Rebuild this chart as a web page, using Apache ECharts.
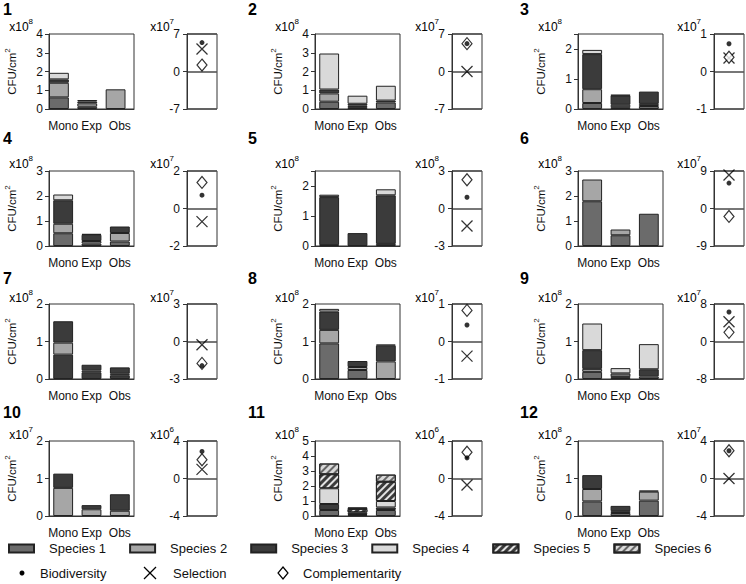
<!DOCTYPE html>
<html><head><meta charset="utf-8">
<script src="https://cdn.jsdelivr.net/npm/echarts@6/dist/echarts.min.js"></script>
<style>html,body{margin:0;padding:0;background:#fff}#c{width:746px;height:584px}</style>
</head><body><div id="c"></div>
<script>
// ---------------- DATA ----------------
const categories = ['Mono', 'Exp', 'Obs'];
const panelNames = ['1','2','3','4','5','6','7','8','9','10','11','12'];
const barAxisMax = [4, 4, 2.5, 3, 2.5, 3, 2, 2, 2, 2, 5, 2];
const barExponent = [8, 8, 8, 8, 8, 8, 8, 8, 8, 7, 8, 8];
const effectAxisMax = [7, 7, 1, 2, 3, 9, 3, 1, 8, 4, 4, 4];
const effectExponent = [7, 7, 7, 7, 8, 7, 7, 7, 7, 6, 6, 7];
const speciesNames = ['Species 1','Species 2','Species 3','Species 4','Species 5','Species 6'];
const effectNames = ['Biodiversity','Selection','Complementarity'];
// stacked segments [species number, value] from bottom to top, for Mono / Exp / Obs
const stack1  = [[[1,.62],[2,.78],[3,.18],[4,.35]], [[1,.12],[2,.18],[3,.10],[4,.08]], [[2,1.05]]];
const stack2  = [[[1,.39],[2,.44],[3,.21],[4,1.92]], [[1,.10],[2,.08],[3,.10],[4,.43]], [[1,.35],[3,.10],[4,.79]]];
const stack3  = [[[1,.20],[2,.46],[3,1.17],[4,.14]], [[1,.06],[2,.08],[3,.31],[4,.02]], [[1,.10],[2,.07],[3,.41]]];
const stack4  = [[[1,.51],[2,.38],[3,.94],[4,.23]], [[1,.10],[2,.10],[3,.25],[4,.03]], [[1,.18],[2,.34],[3,.26]]];
const stack5  = [[[1,.03],[3,1.60],[2,.08]], [[3,.43]], [[1,.07],[3,1.62],[4,.20]]];
const stack6  = [[[1,1.79],[2,.87]], [[1,.43],[2,.23]], [[1,1.29]]];
const stack7  = [[[3,.65],[2,.32],[3,.57]], [[3,.18],[2,.05],[3,.15]], [[3,.10],[2,.04],[3,.17]]];
const stack8  = [[[1,.95],[2,.36],[3,.49],[4,.07]], [[1,.24],[2,.08],[3,.16]], [[2,.47],[3,.42],[4,.03]]];
const stack9  = [[[1,.19],[2,.08],[3,.50],[4,.71]], [[3,.05],[1,.10],[4,.14]], [[1,.07],[3,.19],[4,.67]]];
const stack10 = [[[2,.75],[3,.38]], [[2,.18],[3,.11]], [[2,.14],[3,.44]]];
const stack11 = [[[1,.40],[3,.40],[4,1.05],[5,.93],[6,.72]], [[1,.08],[3,.05],[4,.12],[5,.22],[6,.10]], [[1,.40],[3,.17],[4,.43],[5,1.28],[6,.48]]];
const stack12 = [[[1,.39],[2,.33],[3,.37]], [[1,.08],[2,.05],[3,.14]], [[1,.41],[2,.24],[3,.03]]];
const biodiversity    = [5.4, 5.2, 0.74, 0.71, 0.9, 6.1, -1.93, 0.44, 6.3, 2.89, 2.2, 2.96];
const selection       = [4.2, 0, 0.36, -0.7, -1.4, 8.06, -0.26, -0.39, 4.2, 0.97, -0.7, 0];
const complementarity = [1.2, 5.2, 0.38, 1.39, 2.3, -1.9, -1.75, 0.83, 1.95, 2.0, 2.8, 2.96];
const stacks = [stack1,stack2,stack3,stack4,stack5,stack6,stack7,stack8,stack9,stack10,stack11,stack12];

// ---------------- STYLE / LAYOUT ----------------
const FONT = '"Liberation Sans", Arial, sans-serif';
const TXT = '#111';
const AX = '#333';
const colBar = [49, 315, 578], colEff = [187, 452, 714], rowTop = [34, 171, 304, 441];
const labelX = [3, 248, 520], labelY = [9, 138, 278, 412];
const expY = [25, 162, 296, 433];
const BW = 85, EW = 30, H = 75;
const speciesColor = ['#6b6b6b', '#a6a6a6', '#3b3b3b', '#d9d9d9', '#3b3b3b', '#d9d9d9'];
const speciesDecal = [null, null, null, null,
  {symbol:'rect', symbolSize:1, color:'rgba(255,255,255,0.85)', dashArrayX:[1,0], dashArrayY:[1.5,3], rotation:-Math.PI/4},
  {symbol:'rect', symbolSize:1, color:'rgba(90,90,90,0.9)', dashArrayX:[1,0], dashArrayY:[1.5,3], rotation:-Math.PI/4}];
function segStyle(s) {
  const st = {color: speciesColor[s-1], borderColor:'#222', borderWidth:1};
  if (speciesDecal[s-1]) st.decal = speciesDecal[s-1];
  return st;
}
const supRich = {b:{fontSize:12, fontFamily:FONT, color:TXT, lineHeight:16, verticalAlign:'bottom'},
                 s:{fontSize:8, fontFamily:FONT, color:TXT, lineHeight:9, verticalAlign:'top'}};
const nameRich = {b:{fontSize:11.5, fontFamily:FONT, color:TXT, lineHeight:15, verticalAlign:'bottom'},
                  s:{fontSize:8, fontFamily:FONT, color:TXT, lineHeight:9, verticalAlign:'top'}};

const grid = [], xAxis = [], yAxis = [], series = [], graphic = [];
stacks.forEach((st, p) => {
  const r = Math.floor(p / 3), c = p % 3;
  const top = rowTop[r];
  graphic.push({type:'text', x: labelX[c], y: labelY[r], style:{text: panelNames[p], font:'bold 16px ' + FONT, fill:'#000', textAlign:'left', textVerticalAlign:'middle', align:'left', verticalAlign:'middle'}});
  graphic.push({type:'text', x: colBar[c] - 16, y: expY[r], style:{text:'{b|x10}{s|' + barExponent[p] + '}', rich:supRich, textAlign:'right', textVerticalAlign:'middle', align:'right', verticalAlign:'middle'}});
  graphic.push({type:'text', x: colEff[c] - 13, y: expY[r], style:{text:'{b|x10}{s|' + effectExponent[p] + '}', rich:supRich, textAlign:'right', textVerticalAlign:'middle', align:'right', verticalAlign:'middle'}});

  // bar grid
  const gi = grid.length;
  grid.push({left: colBar[c], top: top, width: BW, height: H, show: true, borderColor: AX, borderWidth: 1, backgroundColor:'transparent'});
  xAxis.push({gridIndex: gi, type:'category', data: categories, axisTick:{show:false},
    axisLine:{show:true, lineStyle:{color:AX, width:1}},
    axisLabel:{interval:0, fontSize:12, fontFamily:FONT, color:TXT, margin:11}});
  yAxis.push({gridIndex: gi, type:'value', min:0, max: barAxisMax[p], interval:1,
    splitLine:{show:false},
    axisLine:{show:true, lineStyle:{color:AX, width:1}},
    axisTick:{show:true, length:4, lineStyle:{color:AX}},
    axisLabel:{fontSize:12, fontFamily:FONT, color:TXT, margin:6, formatter: v => Number.isInteger(v) ? String(v) : ''},
    name:'{b|CFU/cm}{s|2}', nameLocation:'middle', nameRotate:90, nameGap:31,
    nameTextStyle:{rich: nameRich}});
  const nLayers = Math.max(...st.map(s => s.length));
  for (let L = 0; L < nLayers; L++) {
    series.push({type:'bar', xAxisIndex: gi, yAxisIndex: gi, stack:'p' + p, barWidth:'70%',
      silent:true, animation:false,
      data: st.map(segs => segs[L] ? {value: segs[L][1], itemStyle: segStyle(segs[L][0])} : '-')});
  }

  // effect grid
  const ei = grid.length;
  const m = effectAxisMax[p];
  grid.push({left: colEff[c], top: top, width: EW, height: H, show: true, borderColor: AX, borderWidth: 1, backgroundColor:'transparent'});
  xAxis.push({gridIndex: ei, type:'value', min:0, max:2, show:false});
  yAxis.push({gridIndex: ei, type:'value', min:-m, max:m, interval:m,
    splitLine:{show:true, lineStyle:{color:'#555', width:1.6}},
    axisLine:{show:true, lineStyle:{color:AX, width:1}},
    axisTick:{show:true, length:4, lineStyle:{color:AX}},
    axisLabel:{fontSize:12, fontFamily:FONT, color:TXT, margin:7}});
  series.push({type:'scatter', xAxisIndex: ei, yAxisIndex: ei, silent:true, animation:false,
    symbol:'path://M0,0L10,10M10,0L0,10', symbolSize:[11,11],
    itemStyle:{color:'none', borderColor:'#000', borderWidth:1.3},
    data:[[1, selection[p]]]});
  series.push({type:'scatter', xAxisIndex: ei, yAxisIndex: ei, silent:true, animation:false,
    symbol:'diamond', symbolSize:[10,12],
    itemStyle:{color:'#fff', borderColor:'#000', borderWidth:1.2},
    data:[[1, complementarity[p]]]});
  series.push({type:'scatter', xAxisIndex: ei, yAxisIndex: ei, silent:true, animation:false,
    symbol:'circle', symbolSize:5,
    itemStyle:{color:'#000'},
    data:[[1, biodiversity[p]]]});
});

// legend-only series for species swatches
speciesNames.forEach((nm, k) => {
  series.push({type:'bar', name: nm, xAxisIndex:0, yAxisIndex:0, data:[], silent:true, animation:false,
    itemStyle: segStyle(k + 1)});
});

// ---------------- EFFECT LEGEND (graphic) ----------------
const legY2 = 573;
graphic.push({type:'circle', x: 22, y: legY2, shape:{r:2.5}, style:{fill:'#000'}});
graphic.push({type:'text', x: 40, y: legY2, style:{text: effectNames[0], font:'13px ' + FONT, fill: TXT, textVerticalAlign:'middle', verticalAlign:'middle'}});
graphic.push({type:'polyline', x: 150, y: legY2, shape:{points:[[-6,-6],[6,6]]}, style:{stroke:'#000', lineWidth:1.3, fill:null}});
graphic.push({type:'polyline', x: 150, y: legY2, shape:{points:[[6,-6],[-6,6]]}, style:{stroke:'#000', lineWidth:1.3, fill:null}});
graphic.push({type:'text', x: 173, y: legY2, style:{text: effectNames[1], font:'13px ' + FONT, fill: TXT, textVerticalAlign:'middle', verticalAlign:'middle'}});
graphic.push({type:'polygon', x: 283, y: legY2, shape:{points:[[0,-6],[5,0],[0,6],[-5,0]]}, style:{stroke:'#000', lineWidth:1.2, fill:'#fff'}});
graphic.push({type:'text', x: 303, y: legY2, style:{text: effectNames[2], font:'13px ' + FONT, fill: TXT, textVerticalAlign:'middle', verticalAlign:'middle'}});

const chart = echarts.init(document.getElementById('c'), null, {renderer:'svg', width:746, height:584});
chart.setOption({animation:false, backgroundColor:'#fff', textStyle:{fontFamily:FONT},
  legend: {data: speciesNames, left: 8, top: 542, padding: 0, icon:'rect', itemWidth: 25, itemHeight: 8,
    itemGap: 23, selectedMode: false,
    textStyle: {fontSize: 13, fontFamily: FONT, color: TXT, padding: [0, 0, 0, 10]}},
  grid, xAxis, yAxis, series, graphic});
</script></body></html>
